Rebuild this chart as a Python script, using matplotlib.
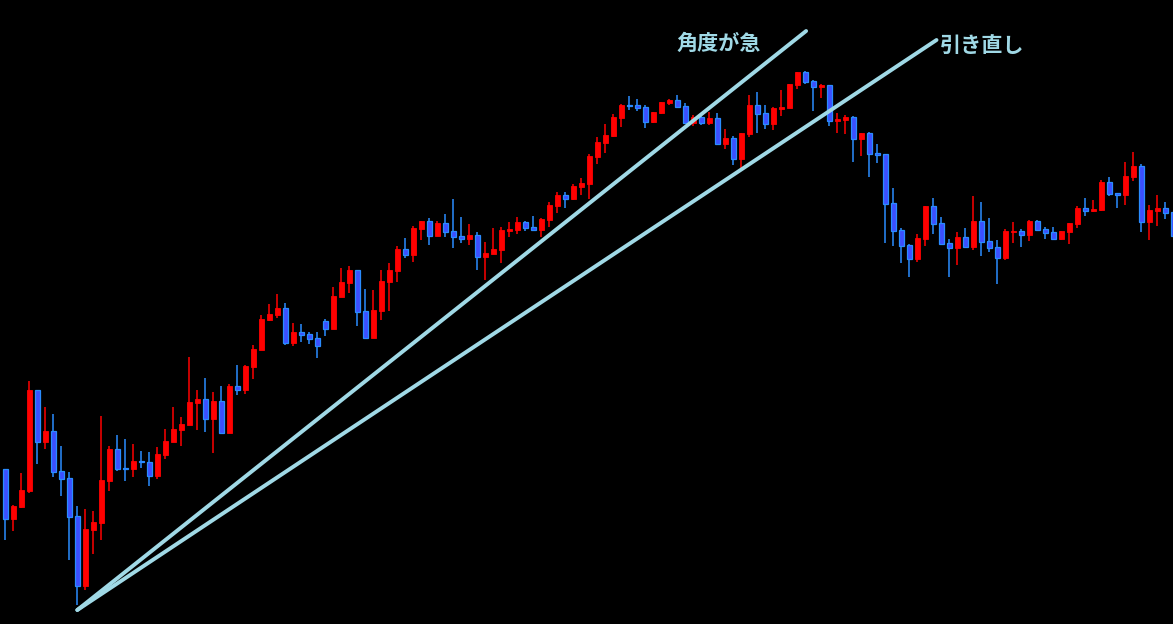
import numpy as np
import matplotlib.pyplot as plt

# OHLC, one candle per bar (price units are arbitrary)
opens = [155, 105, 117, 133, 234, 182, 193, 153, 146, 108, 38, 94, 101, 143, 175, 156, 155, 163, 162, 148,
         169, 182, 194, 199, 221, 225, 205, 223, 191, 238, 234, 257, 274, 304, 309, 316, 281, 292, 290, 286,
         303, 295, 327, 341, 354, 313, 286, 313, 342, 353, 375, 369, 395, 403, 388, 401, 393, 388, 385, 389,
         367, 370, 374, 393, 394, 402, 397, 394, 404, 418, 429, 425, 437, 440, 467, 481, 488, 506, 519, 519,
         517, 502, 511, 521, 524, 518, 501, 507, 501, 506, 480, 486, 465, 490, 519, 511, 500, 515, 516, 539,
         552, 543, 537, 539, 503, 504, 507, 485, 491, 471, 470, 421, 394, 379, 365, 385, 418, 401, 381, 376,
         387, 377, 403, 383, 377, 366, 392, 393, 389, 403, 395, 392, 385, 392, 400, 416, 413, 414, 442, 431,
         429, 447, 458, 402, 413, 416, 412]
highs = [155, 119, 151, 243, 234, 217, 210, 178, 152, 118, 115, 113, 208, 178, 189, 185, 180, 173, 172, 177,
         195, 217, 207, 267, 234, 246, 232, 238, 240, 259, 259, 279, 309, 320, 330, 321, 301, 300, 292, 292,
         305, 337, 356, 358, 354, 335, 334, 354, 361, 378, 386, 398, 403, 406, 403, 410, 425, 407, 400, 392,
         382, 396, 397, 402, 407, 403, 408, 406, 422, 432, 432, 440, 446, 470, 487, 500, 510, 520, 528, 525,
         519, 512, 522, 525, 529, 521, 509, 508, 512, 511, 495, 488, 491, 529, 532, 519, 517, 534, 540, 552,
         553, 544, 540, 539, 511, 509, 508, 491, 492, 480, 470, 436, 396, 380, 390, 418, 426, 407, 385, 392,
         396, 428, 422, 406, 384, 395, 402, 395, 404, 404, 397, 397, 393, 401, 418, 426, 424, 444, 447, 431,
         462, 472, 460, 419, 429, 422, 412]
lows = [84, 93, 116, 131, 160, 175, 147, 128, 64, 19, 34, 70, 84, 133, 153, 143, 147, 156, 138, 145,
        165, 182, 178, 199, 194, 192, 171, 190, 191, 229, 230, 245, 274, 303, 306, 279, 278, 282, 280, 266,
        288, 295, 327, 331, 298, 286, 286, 304, 313, 342, 366, 362, 384, 379, 388, 387, 376, 381, 379, 354,
        344, 370, 361, 387, 390, 393, 393, 387, 397, 411, 416, 424, 429, 425, 460, 471, 487, 497, 514, 513,
        496, 501, 510, 519, 517, 500, 498, 499, 499, 480, 475, 459, 456, 487, 491, 495, 494, 508, 516, 535,
        540, 513, 526, 498, 491, 490, 462, 468, 447, 461, 381, 378, 361, 347, 362, 378, 390, 380, 347, 359,
        376, 374, 368, 372, 340, 364, 381, 377, 383, 393, 385, 384, 384, 380, 396, 408, 412, 413, 428, 416,
        419, 443, 392, 384, 398, 405, 388]
closes = [105, 118, 134, 234, 182, 193, 152, 145, 107, 38, 95, 102, 144, 175, 155, 155, 163, 162, 148, 170,
          183, 195, 200, 222, 225, 205, 223, 191, 238, 234, 258, 275, 305, 310, 316, 281, 292, 289, 285, 278,
          295, 328, 342, 354, 312, 286, 314, 343, 354, 375, 369, 396, 403, 388, 401, 392, 387, 385, 389, 367,
          371, 375, 394, 395, 402, 396, 394, 405, 419, 429, 425, 438, 441, 468, 482, 489, 507, 519, 518, 516,
          502, 512, 522, 524, 517, 501, 507, 501, 506, 480, 486, 465, 491, 519, 510, 500, 516, 517, 540, 552,
          542, 537, 539, 503, 505, 507, 485, 491, 470, 469, 420, 393, 378, 365, 386, 418, 400, 380, 376, 387,
          377, 403, 382, 376, 366, 393, 393, 389, 403, 394, 391, 385, 393, 401, 416, 413, 415, 442, 430, 429,
          448, 458, 402, 414, 416, 411, 388]

# hand-drawn trend lines: (bar index, price) anchors
line_steep = [(9, 14), (100.1, 593)]
line_redrawn = [(9, 14), (116.4, 584)]
label_steep = (89.2, 580.5, "角度が急")
label_redrawn = (122.15, 579, "引き直し")

RED = "#ff0000"
BLUE_FILL = "#3c4fff"
BLUE_EDGE = "#2a8cff"
LINE_COL = "#a0d9e6"

o = np.array(opens)
h = np.array(highs)
l = np.array(lows)
c = np.array(closes)
x = np.arange(len(o))
up = c >= o

fig = plt.figure(figsize=(11.73, 6.24), dpi=100, facecolor="black")
ax = fig.add_axes([0, 0, 1, 1])
ax.set_facecolor("black")

# wicks
ax.vlines(x[up], l[up], h[up], color=RED, linewidth=1.1, zorder=2)
ax.vlines(x[~up], l[~up], h[~up], color=BLUE_EDGE, linewidth=1.1, zorder=2)

# bodies (at least ~1.5 units tall so dojis show)
body_lo = np.minimum(o, c)
body_h = np.maximum(np.abs(c - o), 1.5)
ax.bar(x[up], body_h[up], bottom=body_lo[up], width=0.6, color=RED, edgecolor=RED,
       linewidth=0.6, zorder=3)
ax.bar(x[~up], body_h[~up], bottom=body_lo[~up], width=0.6, color=BLUE_FILL,
       edgecolor=BLUE_EDGE, linewidth=0.9, zorder=3)

for ln in (line_steep, line_redrawn):
    xs, ys = zip(*ln)
    ax.plot(xs, ys, color=LINE_COL, linewidth=2.8, solid_capstyle="round", zorder=4)

for lx, ly, txt in (label_steep, label_redrawn):
    ax.text(lx, ly, txt, color=LINE_COL, fontsize=15.2, fontweight="bold",
            family=["Noto Sans CJK JP", "DejaVu Sans"], ha="center", va="center", zorder=5)

ax.set_xlim(-0.66, 145.96)
ax.set_ylim(0, 624)
ax.axis("off")

fig.savefig("out.png", dpi=100, facecolor="black")
